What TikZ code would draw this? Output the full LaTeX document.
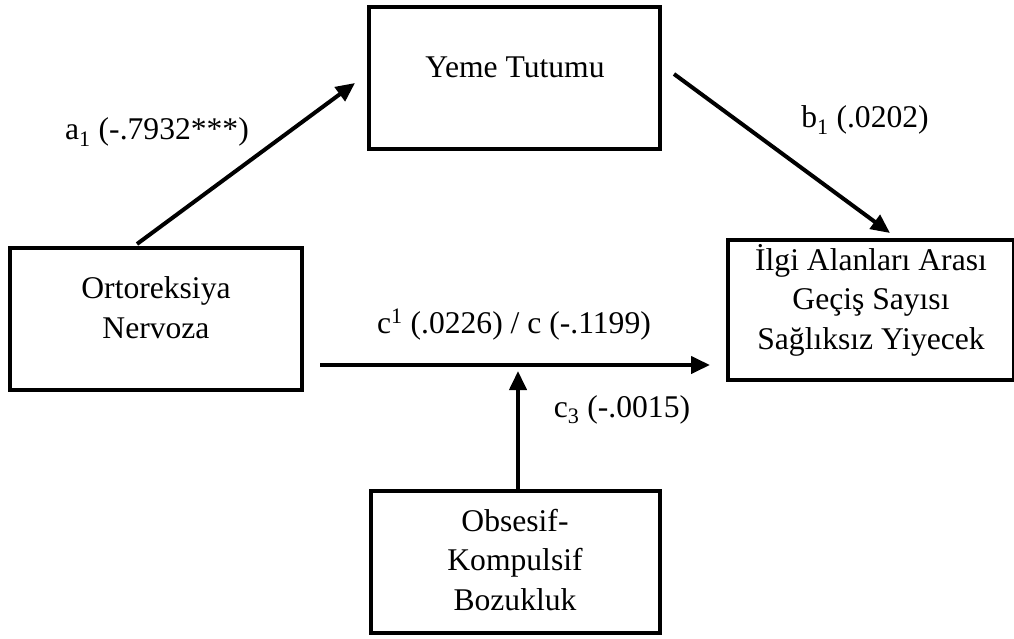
\documentclass[tikz,border=0pt]{standalone}
\usepackage{fontspec}
\setmainfont{Liberation Serif}
\usetikzlibrary{arrows.meta}
\begin{document}
\begin{tikzpicture}[x=1pt,y=-1pt,
  box/.style={draw, line width=4pt, inner sep=0pt, minimum width=#1, minimum height=142pt},
  txt/.style={align=center, anchor=base, inner sep=0pt, font=\fontsize{31.6pt}{39.5pt}\selectfont},
  arr/.style={line width=4pt, -{Triangle[length=19pt,width=17pt]}}]
\useasboundingbox (0,0) rectangle (1014,639);
% boxes
\node[box=292pt] (orto) at (156,319) {};
\node[box=291pt] (yeme) at (514.5,78) {};
\node[box=286pt, minimum height=140pt] (ilgi) at (871,310) {};
\node[box=289pt] (obs) at (515.5,562) {};
% box texts
\node[txt] (tyeme) at (515,78) {Yeme Tutumu};
\node[txt] (torto) at (156,338) {Ortoreksiya\\Nervoza};
\node[txt] (tilgi) at (871,349) {İlgi Alanları Arası\\Geçiş Sayısı\\Sağlıksız Yiyecek};
\node[txt] (tobs) at (515,610) {Obsesif-\\Kompulsif\\Bozukluk};
% connectors
\draw[arr] ([xshift=-19pt,yshift=2pt]orto.north) -- ([xshift=-12pt,yshift=-5pt]yeme.west);
\draw[arr] ([xshift=12pt,yshift=4pt]yeme.east) -- ([xshift=19pt,yshift=5pt]ilgi.north);
\draw[arr] ([xshift=16pt,yshift=-46pt]orto.east) -- ([xshift=-16pt,yshift=-55pt]ilgi.west);
\draw[arr] ([xshift=2.5pt]obs.north) -- ++(0pt,118pt);
% labels
\node[txt] (la) at (157,140) {a\textsubscript{1} (-.7932***)};
\node[txt] (lb) at (865,128) {b\textsubscript{1} (.0202)};
\node[txt] (lc) at (514,333) {c\textsuperscript{1} (.0226) / c (-.1199)};
\node[txt] (lc3) at (622,417) {c\textsubscript{3} (-.0015)};
\end{tikzpicture}
\end{document}
